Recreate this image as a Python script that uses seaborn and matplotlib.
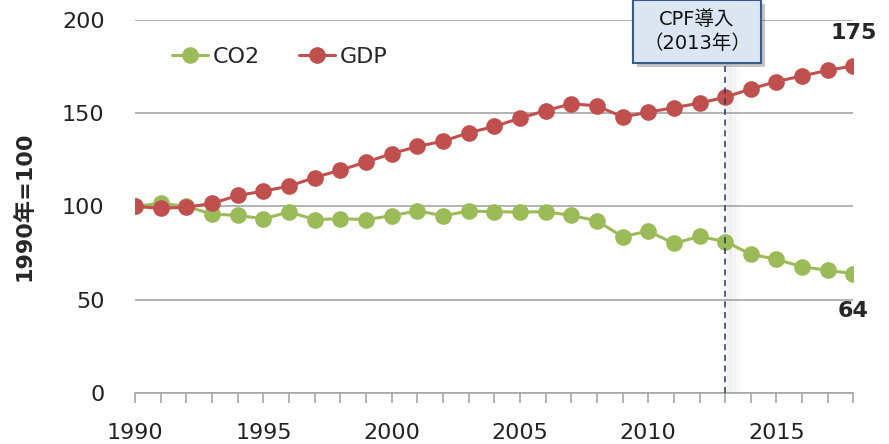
import matplotlib
matplotlib.use("Agg")
import matplotlib.pyplot as plt
import matplotlib.patheffects as pe
from matplotlib.lines import Line2D
import pandas as pd
import seaborn as sns

# index values, 1990 = 100
years = list(range(1990, 2019))
co2 = [100, 101.8, 100, 95.9, 95.2, 93.4, 97, 93, 93.4, 93, 95, 97.7, 95, 97.5, 97.2,
       97, 97.2, 95.2, 92.3, 83.8, 86.8, 80.2, 83.9, 81.2, 74.4, 71.6, 67.7, 65.7, 64]
gdp = [100, 99, 99.6, 101.6, 105.9, 108.2, 110.9, 115.5, 119.5, 123.8, 128.3, 132.2, 135,
       139.5, 142.9, 147.3, 151.4, 155, 154, 148, 150.5, 153, 155.4, 158.6, 163, 167,
       170, 173, 175.4]
series_names = ["CO2", "GDP"]
colors = {"CO2": "#9BBB59", "GDP": "#C0504D"}
cpf_year = 2013
cpf_label = "CPF導入\n（2013年）"
end_labels = {"CO2": "64", "GDP": "175"}

df = pd.DataFrame({"year": years, "CO2": co2, "GDP": gdp})
long = df.melt(id_vars="year", var_name="series", value_name="value")

sns.set_style("white")
plt.rcParams["font.family"] = ["DejaVu Sans", "Noto Sans CJK JP"]

fig = plt.figure(figsize=(8.89, 4.44), dpi=100)
ax = fig.add_axes([0.152, 0.115, 0.808, 0.840])

sns.lineplot(data=long, x="year", y="value", hue="series", hue_order=series_names,
             palette=colors, marker="o", markersize=12, markeredgewidth=0,
             linewidth=2.2, ax=ax, legend=False, zorder=3)

ax.set_xlim(1990, 2018)
ax.set_ylim(0, 200)
ax.set_yticks([0, 50, 100, 150, 200])
ax.set_xticks(range(1990, 2019, 5))
ax.set_xticks(years, minor=True)
ax.grid(axis="y", color="#A6A6A6", linewidth=1.2, zorder=0)
for s in ["left", "top", "right"]:
    ax.spines[s].set_visible(False)
ax.spines["bottom"].set_color("#A6A6A6")
ax.spines["bottom"].set_linewidth(1.2)
ax.tick_params(axis="y", length=0, pad=22, labelsize=16, labelcolor="#222222")
ax.tick_params(axis="x", which="both", direction="out", length=7, width=1.2,
               color="#A6A6A6", bottom=True, pad=15, labelsize=16, labelcolor="#222222")
ax.set_xlabel("")
ax.set_ylabel("1990年=100", fontsize=16, fontweight="bold",
              family=["DejaVu Sans", "Noto Sans CJK JP"])
ax.yaxis.set_label_coords(-0.14, 0.5)

handles = [Line2D([], [], color=colors[n], marker="o", markersize=12, markeredgewidth=0,
                  linewidth=2.2) for n in series_names]
ax.legend(handles, series_names, loc="center left", bbox_to_anchor=(0.024, 0.90), ncol=2,
          frameon=False, fontsize=16, handlelength=1.6, handletextpad=0.2,
          columnspacing=1.8)

# CPF line with soft shadow
for off, a in [(0.15, 0.12), (0.3, 0.08), (0.45, 0.05)]:
    ax.axvline(cpf_year + off, ymin=0, ymax=0.893, color="#999999", linewidth=4,
               alpha=a, zorder=1)
ax.axvline(cpf_year, ymin=0, ymax=0.893, color="#1F3864", linewidth=1.1,
           linestyle=(0, (4, 3)), zorder=4)

t = ax.text(cpf_year - 1.1, 194, cpf_label, ha="center", va="center", fontsize=14,
            color="#111111", linespacing=1.35, clip_on=False, zorder=5,
            family=["DejaVu Sans", "Noto Sans CJK JP"],
            bbox=dict(boxstyle="square,pad=0.5", facecolor="#DCE6F2",
                      edgecolor="#385D8A", linewidth=1.5))
t.get_bbox_patch().set_path_effects([pe.withSimplePatchShadow(offset=(3, -3),
                                                               alpha=0.3), pe.Normal()])

ax.annotate(end_labels["GDP"], (years[-1], gdp[-1]), xytext=(0, 24),
            textcoords="offset points", ha="center", va="center", fontsize=16,
            fontweight="bold", annotation_clip=False)
ax.annotate(end_labels["CO2"], (years[-1], co2[-1]), xytext=(0, -27),
            textcoords="offset points", ha="center", va="center", fontsize=16,
            fontweight="bold", annotation_clip=False)

fig.savefig("out.png", dpi=100)
